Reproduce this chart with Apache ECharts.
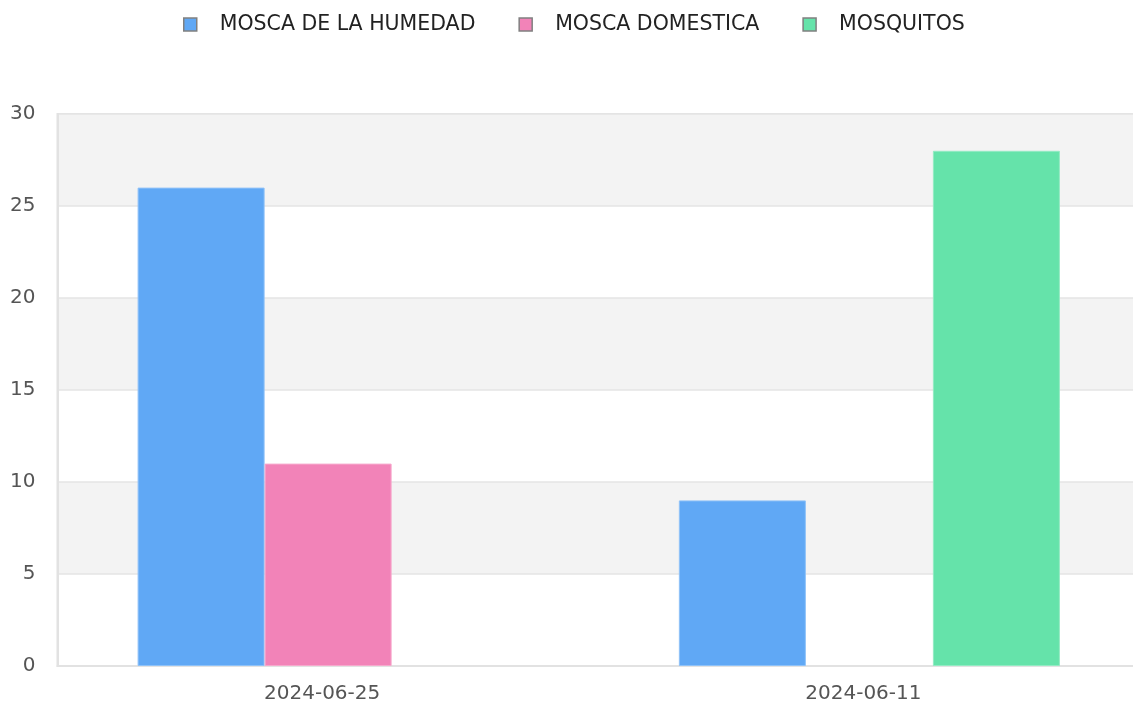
<!DOCTYPE html>
<html>
<head>
<meta charset="utf-8">
<script src="https://cdn.jsdelivr.net/npm/echarts@6/dist/echarts.min.js"></script>
<style>html,body{margin:0;padding:0;background:#fff;overflow:hidden;width:1133px;height:709px}#c{width:1140px;height:709px}</style>
</head>
<body>
<div id="c"></div>
<script>
const categories = ['2024-06-25', '2024-06-11'];
const seriesNames = ['MOSCA DE LA HUMEDAD', 'MOSCA DOMESTICA', 'MOSQUITOS'];
const humedad = [26, 9];
const domestica = [11, 0];
const mosquitos = [0, 28];
const yTicks = [0, 5, 10, 15, 20, 25, 30];
const colors = ['#60a8f5', '#f283b8', '#65e3aa'];
const borderColors = ['#8fc2f8', '#f6a9cd', '#93ebc3'];

const chart = echarts.init(document.getElementById('c'), null, {renderer: 'canvas'});
const values = [humedad, domestica, mosquitos];
chart.setOption({
  animation: false,
  textStyle: {fontFamily: 'DejaVu Sans'},
  legend: {
    top: 9,
    left: 178,
    itemWidth: 13,
    itemHeight: 13,
    itemGap: 43,
    icon: 'rect',
    textStyle: {fontSize: 20.5, color: '#222', padding: [0, 0, 0, 18]},
    data: seriesNames.map((n, i) => ({name: n, itemStyle: {color: colors[i], borderColor: '#808080', borderWidth: 1.5}}))
  },
  grid: {left: 57.5, right: 0, top: 114, bottom: 43, show: true, borderColor: '#e2e2e2', borderWidth: 2},
  xAxis: {
    type: 'category',
    data: categories,
    axisLine: {show: true, lineStyle: {color: '#e2e2e2', width: 2}},
    axisTick: {show: false},
    axisLabel: {color: '#555', fontSize: 20, margin: 18, padding: [0, 12, 0, 0]}
  },
  yAxis: {
    type: 'value',
    min: yTicks[0],
    max: yTicks[yTicks.length - 1],
    interval: 5,
    axisLine: {show: true, lineStyle: {color: '#e2e2e2', width: 2}},
    axisLabel: {color: '#555', fontSize: 20, margin: 22},
    splitLine: {show: true, lineStyle: {color: '#e4e4e4', width: 1.5}},
    splitArea: {show: true, areaStyle: {color: ['#ffffff', '#f3f3f3']}}
  },
  series: seriesNames.map((n, i) => ({
    name: n,
    type: 'bar',
    data: values[i].map(v => v === 0 ? {value: v, itemStyle: {borderWidth: 0}} : v),
    barGap: '0%',
    barCategoryGap: '29.6%',
    itemStyle: {color: colors[i], borderColor: borderColors[i], borderWidth: 1}
  }))
});
</script>
</body>
</html>
